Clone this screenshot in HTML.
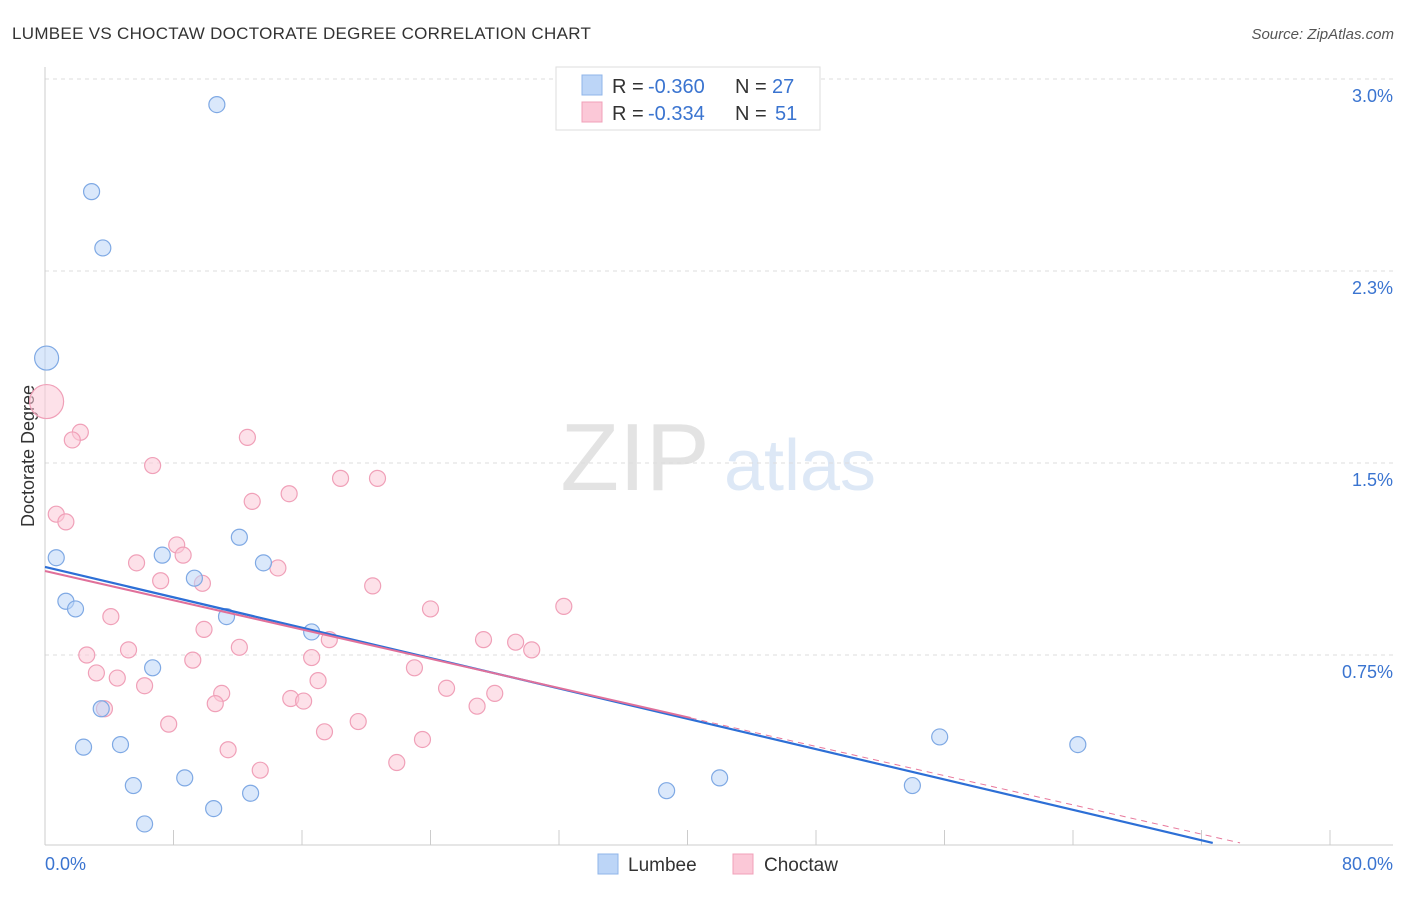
<!DOCTYPE html>
<html><head><meta charset="utf-8"><style>
body{margin:0;background:#fff;font-family:"Liberation Sans",sans-serif;}
svg text{font-family:"Liberation Sans",sans-serif;}
</style></head><body>
<svg id="chart" width="1406" height="892" xmlns="http://www.w3.org/2000/svg">
<text x="12" y="39" font-size="17" letter-spacing="0.3" fill="#333">LUMBEE VS CHOCTAW DOCTORATE DEGREE CORRELATION CHART</text>
<text x="1394" y="39" font-size="15" fill="#555" font-style="italic" text-anchor="end">Source: ZipAtlas.com</text>
<g>
<text x="635" y="490" font-size="96" fill="#e3e3e3" font-family="Liberation Serif" text-anchor="middle">ZIP</text>
<text x="800" y="490" font-size="72" fill="#dde8f6" text-anchor="middle">atlas</text>
</g>
<g id="grid"></g>
<g id="axes"></g>
<text transform="translate(34,456) rotate(-90)" font-size="18" fill="#333" text-anchor="middle">Doctorate Degree</text>
<g id="marks"></g>
<g>
<rect x="556" y="67" width="264" height="63" fill="#fff" stroke="#ddd"/>
<rect x="582" y="75" width="20" height="20" fill="#bcd5f7" stroke="#8fb5ea"/>
<rect x="582" y="102" width="20" height="20" fill="#fbc8d7" stroke="#f0a0b8"/>
<text x="612" y="93" font-size="20" fill="#333">R =</text>
<text x="648" y="93" font-size="20" fill="#3a74d0">-0.360</text>
<text x="735" y="93" font-size="20" fill="#333">N =</text>
<text x="772" y="93" font-size="20" fill="#3a74d0">27</text>
<text x="612" y="120" font-size="20" fill="#333">R =</text>
<text x="648" y="120" font-size="20" fill="#3a74d0">-0.334</text>
<text x="735" y="120" font-size="20" fill="#333">N =</text>
<text x="775" y="120" font-size="20" fill="#3a74d0">51</text>
</g>
<g>
<rect x="598" y="854" width="20" height="20" fill="#bcd5f7" stroke="#8fb5ea"/>
<text x="628" y="871" font-size="19" fill="#333">Lumbee</text>
<rect x="733" y="854" width="20" height="20" fill="#fbc8d7" stroke="#f0a0b8"/>
<text x="764" y="871" font-size="19" fill="#333">Choctaw</text>
</g>
</svg>
<script>
const yTicks=[3.0,2.25,1.5,0.75];
const yTickLabels=["3.0%","2.3%","1.5%","0.75%"];
const xTickLabels=["0.0%","80.0%"];
const lumbeeX=[10.7,2.9,3.6,0.1,0.7,7.3,12.1,9.3,13.6,1.3,1.9,11.3,16.6,6.7,3.5,2.4,4.7,8.7,5.5,12.8,10.5,6.2,38.7,42.0,54.0,55.7,64.3];
const lumbeeY=[2.90,2.56,2.34,1.91,1.13,1.14,1.21,1.05,1.11,0.96,0.93,0.90,0.84,0.70,0.54,0.39,0.40,0.27,0.24,0.21,0.15,0.09,0.22,0.27,0.24,0.43,0.40];
const lumbeeR=[8,8,8,12,8,8,8,8,8,8,8,8,8,8,8,8,8,8,8,8,8,8,8,8,8,8,8];
const choctawX=[0.1,2.2,1.7,12.6,6.7,18.4,20.7,15.2,12.9,0.7,1.3,8.2,8.6,5.7,14.5,7.2,9.8,20.4,24.0,32.3,4.1,9.9,17.7,27.3,29.3,30.3,5.2,12.1,2.6,16.6,9.2,23.0,3.2,4.5,17.0,6.2,25.0,11.0,15.3,28.0,16.1,10.6,3.7,26.9,7.7,19.5,17.4,23.5,11.4,21.9,13.4];
const choctawY=[1.74,1.62,1.59,1.60,1.49,1.44,1.44,1.38,1.35,1.30,1.27,1.18,1.14,1.11,1.09,1.04,1.03,1.02,0.93,0.94,0.90,0.85,0.81,0.81,0.80,0.77,0.77,0.78,0.75,0.74,0.73,0.70,0.68,0.66,0.65,0.63,0.62,0.60,0.58,0.60,0.57,0.56,0.54,0.55,0.48,0.49,0.45,0.42,0.38,0.33,0.30];
const choctawR=[17,8,8,8,8,8,8,8,8,8,8,8,8,8,8,8,8,8,8,8,8,8,8,8,8,8,8,8,8,8,8,8,8,8,8,8,8,8,8,8,8,8,8,8,8,8,8,8,8,8,8];
const lumbeeTrend=[1.094,0.016];
const choctawTrend=[1.078,0.016];
const NS="http://www.w3.org/2000/svg";
const X=v=>45+v*16.0625, Y=v=>847-v*256;
function mk(t,a,p){const e=document.createElementNS(NS,t);for(const k in a)e.setAttribute(k,a[k]);p.appendChild(e);return e;}
const grid=document.getElementById('grid'),axes=document.getElementById('axes'),marks=document.getElementById('marks');
yTicks.forEach((v,i)=>{
 const l=mk('line',{x1:45,x2:1393,y1:Y(v),y2:Y(v),stroke:'#ddd','stroke-dasharray':'4,4'},grid);
 
 
 const t=mk('text',{x:1393,y:Y(v)+23,'font-size':18,fill:'#3a74d0','text-anchor':'end'},axes);
 t.textContent=yTickLabels[i];
 
 
});
mk('line',{x1:45,x2:45,y1:67,y2:845,stroke:'#ccc'},axes);
mk('line',{x1:45,x2:1393,y1:845,y2:845,stroke:'#ccc'},axes);
for(let i=0;i<=10;i++){const tk=mk('line',{x1:X(i*8),x2:X(i*8),y1:830,y2:845,stroke:'#ccc'},axes);
 
 }
const xl0=mk('text',{x:45,y:870,'font-size':18,fill:'#3a74d0'},axes);xl0.textContent=xTickLabels[0];


const xl1=mk('text',{x:1393,y:870,'font-size':18,fill:'#3a74d0','text-anchor':'end'},axes);xl1.textContent=xTickLabels[1];


function pts(xs,ys,rs,fill,stroke,name){xs.forEach((x,i)=>{const c=mk('circle',{cx:X(x),cy:Y(ys[i]),r:rs[i],fill:fill,stroke:stroke,'stroke-width':1.2,'fill-opacity':0.55},marks);
 
 });}
pts(choctawX,choctawY,choctawR,'#fbc8d7','#f0a0b8','choctaw-point');
pts(lumbeeX,lumbeeY,lumbeeR,'#bcd5f7','#7fa9e4','lumbee-point');
const lx2=72.7, cx2=74.4, cs=40.2;
const lt=mk('line',{x1:X(0),y1:Y(lumbeeTrend[0]),x2:X(lx2),y2:Y(lumbeeTrend[1]),stroke:'#2d6fd6','stroke-width':2.2},marks);


const cAt=x=>choctawTrend[0]+(choctawTrend[1]-choctawTrend[0])*x/cx2;
const cd=mk('line',{x1:X(cs),y1:Y(cAt(cs)),x2:X(cx2),y2:Y(cAt(cx2)),stroke:'#e8789c','stroke-width':1,'stroke-dasharray':'6,5'},marks);


const ct=mk('line',{x1:X(0),y1:Y(cAt(0)),x2:X(cs),y2:Y(cAt(cs)),stroke:'#e0709a','stroke-width':2},marks);


</script>
</body></html>
